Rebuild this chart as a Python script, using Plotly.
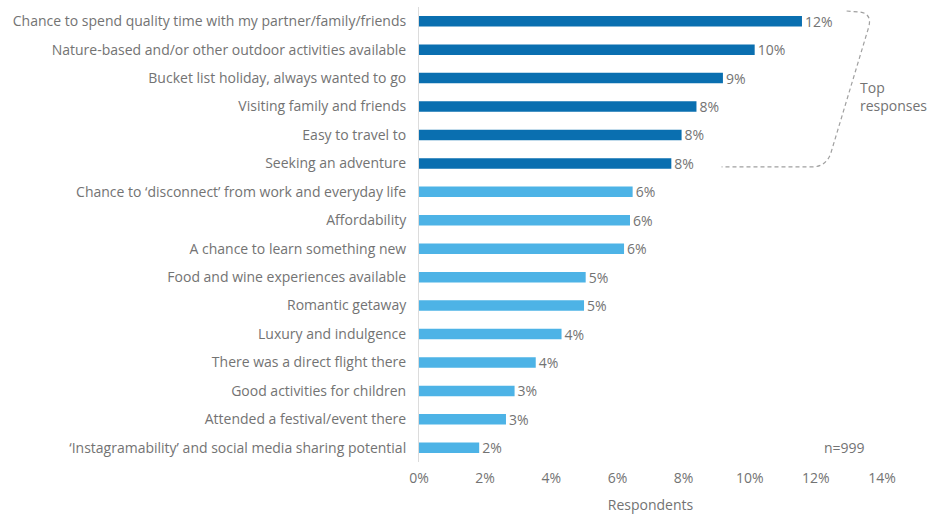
import plotly.graph_objects as go

categories = [
    "Chance to spend quality time with my partner/family/friends",
    "Nature-based and/or other outdoor activities available",
    "Bucket list holiday, always wanted to go",
    "Visiting family and friends",
    "Easy to travel to",
    "Seeking an adventure",
    "Chance to \u2018disconnect\u2019 from work and everyday life",
    "Affordability",
    "A chance to learn something new",
    "Food and wine experiences available",
    "Romantic getaway",
    "Luxury and indulgence",
    "There was a direct flight there",
    "Good activities for children",
    "Attended a festival/event there",
    "\u2018Instagramability\u2019 and social media sharing potential",
]
values = [11.58, 10.15, 9.19, 8.39, 7.94, 7.63, 6.46, 6.38, 6.20, 5.04, 4.99, 4.31, 3.53, 2.89, 2.63, 1.82]
top_count = 6
tick_vals = [0, 2, 4, 6, 8, 10, 12, 14]
tick_text = ["0%", "2%", "4%", "6%", "8%", "10%", "12%", "14%"]

DARK = "#0a6fb0"
LIGHT = "#4db3e6"
GRAY = "#737373"
FONT = "Open Sans"
FS = 14

colors = [DARK if i < top_count else LIGHT for i in range(len(values))]

fig = go.Figure(go.Bar(
    x=values,
    y=list(range(len(categories))),
    orientation="h",
    marker=dict(color=colors, line=dict(width=0)),
    width=0.37,
    text=[f"{round(v):d}%" for v in values],
    textposition="outside",
    constraintext="none",
    textfont=dict(family=FONT, size=FS, color=GRAY),
    cliponaxis=False,
    hoverinfo="skip",
))

fig.update_layout(
    width=930, height=515,
    margin=dict(l=419, r=48, t=7, b=53),
    paper_bgcolor="white", plot_bgcolor="white",
    font=dict(family=FONT, size=FS, color=GRAY),
    showlegend=False,
    uniformtext=dict(mode=False),
)

fig.update_yaxes(
    tickmode="array",
    tickvals=list(range(len(categories))),
    ticktext=categories,
    range=[len(categories) - 0.5, -0.5],
    showline=True, linecolor="#dcdcdc", linewidth=1,
    showgrid=False, zeroline=False, ticks="",
    ticklabelstandoff=9,
    tickfont=dict(family=FONT, size=FS, color=GRAY),
    automargin=False,
)

fig.update_xaxes(
    range=[0, 14],
    tickmode="array", tickvals=tick_vals, ticktext=tick_text,
    showline=False, showgrid=False, zeroline=False, ticks="",
    ticklabelstandoff=6,
    tickfont=dict(family=FONT, size=FS, color=GRAY),
    title=dict(text="Respondents", font=dict(family=FONT, size=FS, color=GRAY), standoff=14),
    automargin=False,
)

# dashed bracket grouping the top responses
fig.add_shape(
    type="path",
    xref="x", yref="y",
    path="M 12.93,-0.36 L 13.35,-0.32 Q 13.70,-0.25 13.60,0.20 L 12.45,4.65 Q 12.30,5.12 11.90,5.12 L 9.15,5.12",
    line=dict(color="#a0a0a0", width=1.2, dash="4px,3px"),
)

fig.add_annotation(
    x=(858 - 419) / 463, y=(462 - 97) / 455, xref="paper", yref="paper", text="Top<br>responses",
    showarrow=False, align="left", xanchor="left", yanchor="middle",
    font=dict(family=FONT, size=FS, color=GRAY),
)

fig.add_annotation(
    x=0.92, y=15, xref="x domain", yref="y", text="n=999",
    showarrow=False, xanchor="center", yanchor="middle",
    font=dict(family=FONT, size=FS, color=GRAY),
)

fig.write_html("out.html")
